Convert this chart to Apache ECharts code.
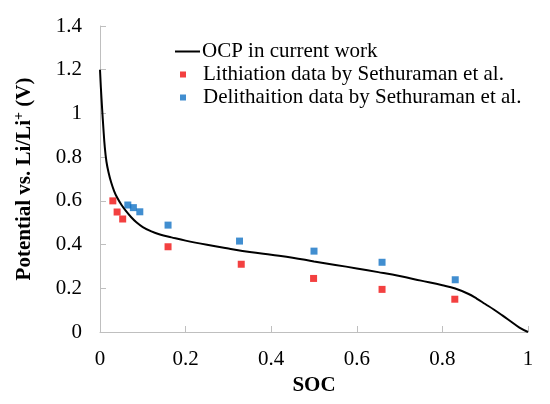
<!DOCTYPE html>
<html>
<head>
<meta charset="utf-8">
<style>html,body{margin:0;padding:0;background:#fff;}#c{width:550px;height:404px;}</style>
<script src="https://cdn.jsdelivr.net/npm/echarts@6/dist/echarts.min.js"></script>
</head>
<body>
<div id="c"></div>
<script>
var seriesNames = ['OCP in current work', 'Lithiation data by Sethuraman et al.', 'Delithaition data by Sethuraman et al.'];
var ocpCurve = [[0,1.2],[0.002,1.12],[0.005,1.02],[0.008,0.93],[0.011,0.85],[0.015,0.78],[0.02,0.73],[0.026,0.685],[0.033,0.645],[0.04,0.615],[0.05,0.582],[0.06,0.555],[0.073,0.525],[0.085,0.502],[0.1,0.48],[0.12,0.46],[0.14,0.446],[0.167,0.433],[0.2,0.418],[0.25,0.399],[0.3,0.382],[0.35,0.366],[0.4,0.353],[0.45,0.34],[0.5,0.323],[0.55,0.307],[0.6,0.291],[0.65,0.274],[0.7,0.256],[0.75,0.235],[0.8,0.214],[0.83,0.199],[0.86,0.175],[0.88,0.153],[0.9,0.128],[0.92,0.103],[0.94,0.076],[0.96,0.048],[0.98,0.02],[1.0,0]];
var lithiation = [[0.03,0.60],[0.04,0.549],[0.053,0.517],[0.159,0.39],[0.33,0.31],[0.499,0.245],[0.659,0.195],[0.829,0.15]];
var delithiation = [[0.065,0.581],[0.078,0.569],[0.093,0.55],[0.159,0.489],[0.326,0.416],[0.5,0.37],[0.659,0.319],[0.83,0.239]];
var xTitle = 'SOC';
var yTitleParts = ['Potential vs. Li/Li', '+', ' (V)'];

var FONT = "'Liberation Serif', 'Times New Roman', serif";
var chart = echarts.init(document.getElementById('c'));
chart.setOption({
  backgroundColor: '#fff',
  animation: false,
  textStyle: { fontFamily: FONT },
  grid: { left: 100, right: 22, top: 26, bottom: 72, containLabel: false },
  legend: [
    { data: [{ name: seriesNames[0], icon: 'rect' }], left: 175, top: 41, orient: 'vertical', itemWidth: 25, itemHeight: 2, padding: 0,
      textStyle: { fontFamily: FONT, fontSize: 21, color: '#000', padding: [0,0,0,-3] } },
    { data: [seriesNames[1]], left: 180, top: 64, orient: 'vertical', itemWidth: 6, itemHeight: 6, padding: 0,
      textStyle: { fontFamily: FONT, fontSize: 21, color: '#000', padding: [0,0,0,12] } },
    { data: [seriesNames[2]], left: 180, top: 87, orient: 'vertical', itemWidth: 6, itemHeight: 6, padding: 0,
      textStyle: { fontFamily: FONT, fontSize: 21, color: '#000', padding: [0,0,0,12] } }
  ],
  xAxis: {
    type: 'value', min: 0, max: 1, interval: 0.2,
    name: xTitle, nameLocation: 'middle', nameGap: 40,
    nameTextStyle: { fontFamily: FONT, fontSize: 21, fontWeight: 'bold', color: '#000' },
    axisLine: { lineStyle: { color: '#bfbfbf', width: 1 } },
    axisTick: { inside: true, length: 6, lineStyle: { color: '#bfbfbf' } },
    axisLabel: { fontFamily: FONT, fontSize: 21, color: '#000', margin: 17 },
    splitLine: { show: false }
  },
  yAxis: {
    type: 'value', min: 0, max: 1.4, interval: 0.2,
    name: '{a|' + yTitleParts[0] + '}{s|' + yTitleParts[1] + '}{a|' + yTitleParts[2] + '}',
    nameLocation: 'middle', nameGap: 62,
    nameTextStyle: {
      fontFamily: FONT, fontSize: 21, fontWeight: 'bold', color: '#000',
      rich: {
        a: { fontFamily: FONT, fontSize: 21, fontWeight: 'bold', color: '#000' },
        s: { fontFamily: FONT, fontSize: 14, fontWeight: 'bold', color: '#000', padding: [0,0,12,0] }
      }
    },
    axisLine: { show: true, lineStyle: { color: '#bfbfbf', width: 1 } },
    axisTick: { show: true, inside: true, length: 6, lineStyle: { color: '#bfbfbf' } },
    axisLabel: { fontFamily: FONT, fontSize: 21, color: '#000', margin: 18 },
    splitLine: { show: false }
  },
  series: [
    { name: seriesNames[0], type: 'line', data: ocpCurve, symbol: 'none', smooth: 0.4,
      lineStyle: { color: '#000', width: 2 }, itemStyle: { color: '#000' }, z: 3 },
    { name: seriesNames[1], type: 'scatter', data: lithiation, symbol: 'rect', symbolSize: 7,
      itemStyle: { color: '#f01010' }, z: 2 },
    { name: seriesNames[2], type: 'scatter', data: delithiation, symbol: 'rect', symbolSize: 7,
      itemStyle: { color: '#1272c4' }, z: 2 }
  ]
});
</script>
</body>
</html>
